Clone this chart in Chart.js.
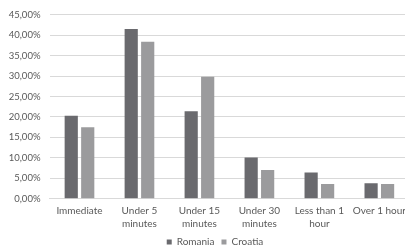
<!DOCTYPE html>
<html>
<head>
<meta charset="utf-8">
<script src="https://cdn.jsdelivr.net/npm/chart.js@4/dist/chart.umd.min.js"></script>
<style>
  html, body { margin: 0; padding: 0; background: #fff; overflow: hidden; }
  #wrap { width: 405px; height: 249px; overflow: hidden; }
</style>
</head>
<body>
<div id="wrap"><canvas id="chart" width="412" height="249"></canvas></div>
<script>
// categories and values (percent)
const categories = [
  "Immediate",
  ["Under 5", "minutes"],
  ["Under 15", "minutes"],
  ["Under 30", "minutes"],
  ["Less than 1", "hour"],
  "Over 1 hour"
];
const romania = [20.3, 41.5, 21.4, 10.1, 6.4, 3.8];
const croatia = [17.5, 38.4, 29.8, 7.0, 3.6, 3.6];
const yTicks = [0, 5, 10, 15, 20, 25, 30, 35, 40, 45];

const fontFam = "Lato, 'Open Sans', sans-serif";
const txtColor = '#595959';

// legend sits a bit right of the canvas centre in the original
const legendShift = {
  id: 'legendShift',
  afterLayout(chart) {
    chart.legend.left += 9;
    chart.legend.right += 9;
  }
};

const ctx = document.getElementById('chart');
const chart = new Chart(ctx, {
  type: 'bar',
  data: {
    labels: categories,
    datasets: [{
      label: 'Romania',
      data: romania,
      backgroundColor: '#6a6a6e',
      categoryPercentage: 0.55,
      barPercentage: 0.8
    }, {
      label: 'Croatia',
      data: croatia,
      backgroundColor: '#9b9b9d',
      categoryPercentage: 0.55,
      barPercentage: 0.8
    }]
  },
  plugins: [legendShift],
  options: {
    responsive: false,
    animation: false,
    layout: { padding: { top: 8, left: 0, right: 0, bottom: -8 } },
    plugins: {
      tooltip: { enabled: false },
      legend: {
        position: 'bottom',
        labels: {
          boxWidth: 5,
          boxHeight: 5,
          padding: 7,
          color: txtColor,
          font: { family: fontFam, size: 10 }
        }
      }
    },
    scales: {
      x: {
        grid: { display: false, drawTicks: false },
        border: { display: true, color: '#d9d9d9', width: 1 },
        ticks: {
          color: txtColor,
          padding: 6,
          maxRotation: 0,
          autoSkip: false,
          font: { family: fontFam, size: 10, lineHeight: 1.25 }
        },
        afterFit: (s) => { s.height = 31.3; }
      },
      y: {
        min: 0,
        max: 45,
        grid: { color: '#d9d9d9', drawTicks: false },
        border: { display: false },
        afterBuildTicks: (s) => { s.ticks = yTicks.map(v => ({ value: v })); },
        ticks: {
          color: txtColor,
          padding: 9,
          font: { family: fontFam, size: 9.5 },
          callback: (v) => v.toFixed(2).replace('.', ',') + '%'
        },
        afterFit: (s) => { s.width = 49.5; }
      }
    }
  }
});
</script>
</body>
</html>
